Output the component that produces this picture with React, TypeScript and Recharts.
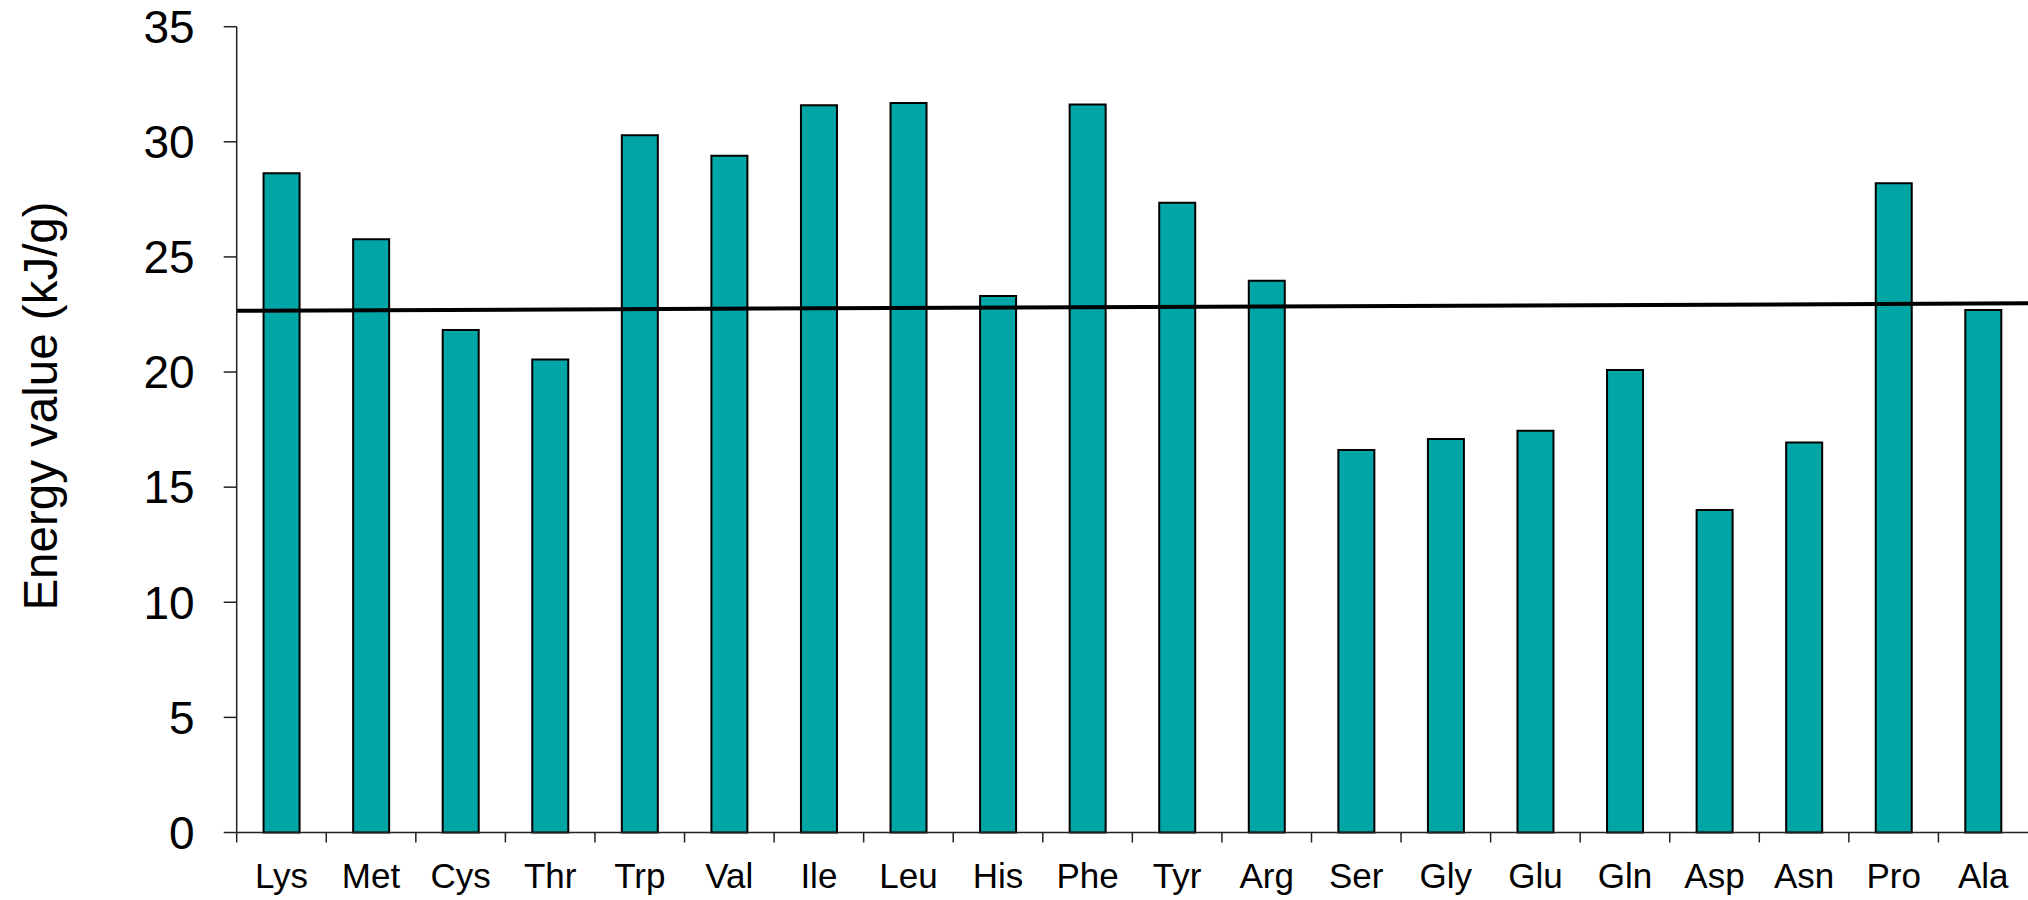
import React from "react";
import { BarChart, Bar, XAxis, YAxis, ReferenceLine } from "recharts";

// amino acids along the x axis
const AMINO_ACIDS = [
  "Lys", "Met", "Cys", "Thr", "Trp", "Val", "Ile", "Leu", "His", "Phe",
  "Tyr", "Arg", "Ser", "Gly", "Glu", "Gln", "Asp", "Asn", "Pro", "Ala",
];

// energy value, kJ/g
const ENERGY_VALUES = [
  28.64, 25.77, 21.83, 20.54, 30.28, 29.39, 31.59, 31.69, 23.3, 31.62,
  27.35, 23.97, 16.61, 17.09, 17.45, 20.09, 14.01, 16.94, 28.2, 22.7,
];

// linear trend, value at left and right end of the plot
const TREND_START = 22.66;
const TREND_END = 23.0;

const Y_TICKS = [0, 5, 10, 15, 20, 25, 30, 35];

const data = AMINO_ACIDS.map((name, i) => ({ name, energy: ENERGY_VALUES[i] }));

const FONT = '"Liberation Sans", Arial, Helvetica, sans-serif';
const BAR_COLOR = "#00A5A6";
const AXIS_COLOR = "#222";
const X_TICK_MARGIN = 31;
const X_TICK_LEN = 10;

const CategoryTick = (props: any) => {
  const { x, y, payload, width } = props;
  const half = payload && payload.offset ? payload.offset : width / AMINO_ACIDS.length / 2;
  const axisY = y - X_TICK_MARGIN;
  return (
    <g>
      <line
        x1={x - half}
        x2={x - half}
        y1={axisY}
        y2={axisY + X_TICK_LEN}
        stroke={AXIS_COLOR}
        strokeWidth={1.5}
      />
      <text
        x={x}
        y={y}
        dy="0.71em"
        textAnchor="middle"
        fontFamily={FONT}
        fontSize={35}
        fill="#000"
      >
        {payload.value}
      </text>
    </g>
  );
};

const YTitle = () => (
  <text
    x={57}
    y={406}
    transform="rotate(-90, 57, 406)"
    textAnchor="middle"
    fontFamily={FONT}
    fontSize={47.5}
    fill="#000"
  >
    Energy value (kJ/g)
  </text>
);

export default function App() {
  return (
    <div style={{ position: "absolute", left: 0, top: 0, background: "#fff" }}>
      <BarChart
        width={2028}
        height={900}
        data={data}
        margin={{ top: 26.7, right: 0, bottom: 0, left: 0 }}
        barCategoryGap="30%"
      >
        <XAxis
          xAxisId="cat"
          dataKey="name"
          height={67.5}
          interval={0}
          tickLine={false}
          tickSize={0}
          tickMargin={X_TICK_MARGIN}
          tick={<CategoryTick />}
          axisLine={{ stroke: AXIS_COLOR, strokeWidth: 1.5 }}
        />
        <XAxis
          xAxisId="num"
          type="number"
          domain={[0, AMINO_ACIDS.length]}
          allowDataOverflow
          hide
        />
        <YAxis
          width={236.7}
          domain={[0, 35]}
          ticks={Y_TICKS}
          interval={0}
          tickSize={13}
          tickMargin={29}
          tick={{ fontFamily: FONT, fontSize: 46, fill: "#000" }}
          tickLine={{ stroke: AXIS_COLOR, strokeWidth: 1.5 }}
          axisLine={{ stroke: AXIS_COLOR, strokeWidth: 1.5 }}
          label={{ content: () => <YTitle /> }}
        />
        <Bar
          xAxisId="cat"
          dataKey="energy"
          fill={BAR_COLOR}
          stroke="#000"
          strokeWidth={2}
          isAnimationActive={false}
        />
        <ReferenceLine
          xAxisId="num"
          segment={[
            { x: 0, y: TREND_START },
            { x: AMINO_ACIDS.length, y: TREND_END },
          ]}
          stroke="#000"
          strokeWidth={4}
          ifOverflow="visible"
        />
      </BarChart>
    </div>
  );
}
